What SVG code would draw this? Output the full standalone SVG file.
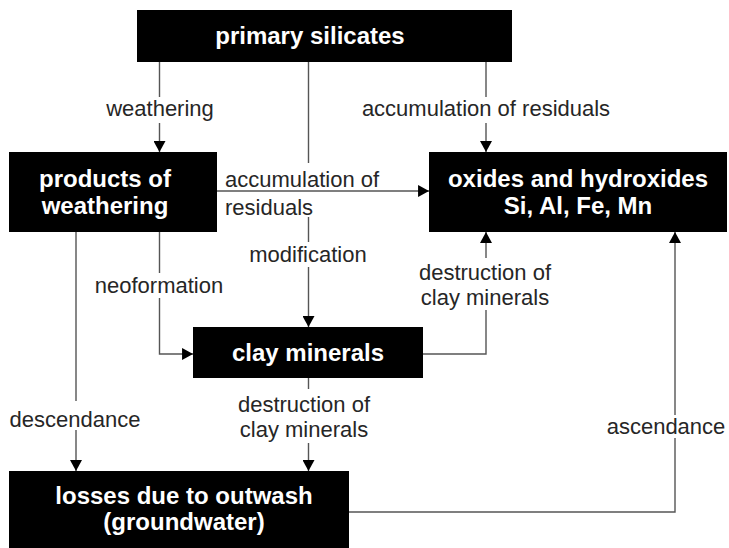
<svg xmlns="http://www.w3.org/2000/svg" width="729" height="548" viewBox="0 0 729 548">
  <style>
    .box { fill: #000; }
    .bt { font-family: "Liberation Sans", Arial, sans-serif; font-weight: bold; font-size: 24px; fill: #fff; text-anchor: middle; }
    .lbl { font-family: "Liberation Sans", Arial, sans-serif; font-size: 22px; fill: #262626; text-anchor: middle; }
    .lbl-start { text-anchor: start; }
    .edge { fill: none; stroke: #555; stroke-width: 1.4; }
  </style>
  <defs>
    <marker id="arrow" markerUnits="userSpaceOnUse" markerWidth="12" markerHeight="12" viewBox="0 0 10 11" refX="10" refY="5.5" orient="auto">
      <path d="M0,0 L10,5.5 L0,11 z" fill="#000"/>
    </marker>
  </defs>

  <rect width="729" height="548" fill="#fff"/>

  <!-- connectors (gaps leave room for the labels) -->
  <g id="connectors">
    <!-- primary silicates -> products of weathering -->
    <path class="edge" marker-end="url(#arrow)" d="M159.5,62 V97 M159.5,123 V152"/>
    <!-- primary silicates -> clay minerals (modification) -->
    <path class="edge" marker-end="url(#arrow)" d="M308.5,62 V163 M308.5,217 V242 M308.5,267 V327"/>
    <!-- primary silicates -> oxides and hydroxides -->
    <path class="edge" marker-end="url(#arrow)" d="M486,62 V97 M486,123 V152"/>
    <!-- products of weathering -> oxides and hydroxides -->
    <path class="edge" marker-end="url(#arrow)" d="M217,191 H429"/>
    <!-- products of weathering -> clay minerals (neoformation) -->
    <path class="edge" marker-end="url(#arrow)" d="M159.5,232 V273 M159.5,298 V354 H193"/>
    <!-- products of weathering -> losses (descendance) -->
    <path class="edge" marker-end="url(#arrow)" d="M76,232 V401 M76,430 V471"/>
    <!-- clay minerals -> losses -->
    <path class="edge" marker-end="url(#arrow)" d="M308.5,378 V389 M308.5,443 V471"/>
    <!-- clay minerals -> oxides and hydroxides -->
    <path class="edge" marker-end="url(#arrow)" d="M423,354 H486 V310 M486,258 V232"/>
    <!-- losses -> oxides and hydroxides (ascendance) -->
    <path class="edge" marker-end="url(#arrow)" d="M349,512 H675 V438 M675,415 V232"/>
  </g>

  <!-- connector labels -->
  <g id="labels">
    <text class="lbl" x="160" y="116">weathering</text>
    <text class="lbl" x="486" y="116">accumulation of residuals</text>
    <text class="lbl lbl-start" x="225" y="187">accumulation of</text>
    <text class="lbl lbl-start" x="225" y="215">residuals</text>
    <text class="lbl" x="308" y="262">modification</text>
    <text class="lbl" x="159" y="293">neoformation</text>
    <text class="lbl" x="485" y="280">destruction of</text>
    <text class="lbl" x="485" y="305">clay minerals</text>
    <text class="lbl" x="75" y="427">descendance</text>
    <text class="lbl" x="304" y="412">destruction of</text>
    <text class="lbl" x="304" y="437">clay minerals</text>
    <text class="lbl" x="666" y="434">ascendance</text>
  </g>

  <!-- nodes -->
  <g id="primary-silicates">
    <rect class="box" x="137" y="10" width="375" height="52"/>
    <text class="bt" x="310" y="44">primary silicates</text>
  </g>
  <g id="products-of-weathering">
    <rect class="box" x="9" y="152" width="208" height="80"/>
    <text class="bt" x="105" y="187">products of</text>
    <text class="bt" x="105" y="214">weathering</text>
  </g>
  <g id="oxides-hydroxides">
    <rect class="box" x="429" y="152" width="298" height="80"/>
    <text class="bt" x="578" y="187">oxides and hydroxides</text>
    <text class="bt" x="578" y="214">Si, Al, Fe, Mn</text>
  </g>
  <g id="clay-minerals">
    <rect class="box" x="193" y="327" width="230" height="51"/>
    <text class="bt" x="308" y="361">clay minerals</text>
  </g>
  <g id="losses-outwash">
    <rect class="box" x="9" y="471" width="340" height="80"/>
    <text class="bt" x="184" y="504">losses due to outwash</text>
    <text class="bt" x="184" y="530">(groundwater)</text>
  </g>
</svg>
